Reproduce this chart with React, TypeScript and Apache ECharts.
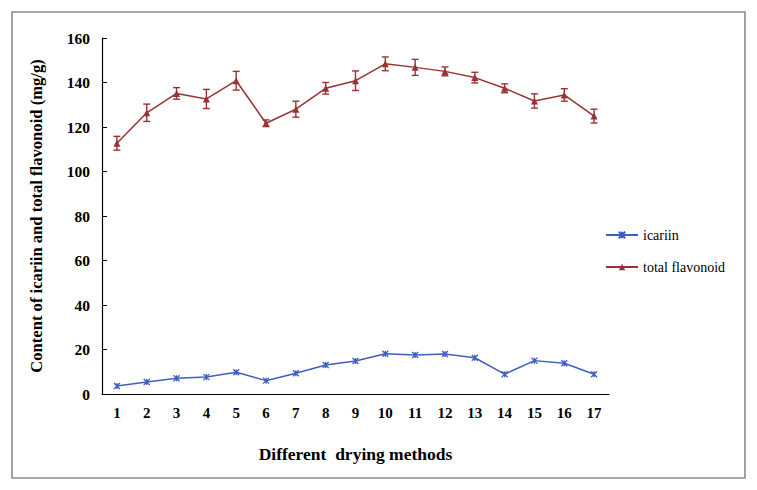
import React, { useEffect, useRef } from "react";
import * as echarts from "echarts";

const categories = ["1", "2", "3", "4", "5", "6", "7", "8", "9", "10", "11", "12", "13", "14", "15", "16", "17"];
const icariin = [3.6, 5.4, 7.1, 7.6, 9.8, 6.0, 9.3, 13.0, 14.8, 18.1, 17.5, 18.0, 16.3, 8.9, 15.0, 13.8, 8.9];
const totalFlavonoid = [112.7, 126.4, 135.1, 132.6, 140.8, 121.7, 128.0, 137.4, 140.8, 148.4, 146.8, 145.0, 142.2, 137.4, 131.7, 134.4, 124.9];
const totalFlavonoidErr = [3.1, 3.9, 2.6, 4.3, 4.2, 1.5, 3.6, 2.6, 4.4, 3.1, 3.6, 2.0, 2.4, 2.0, 3.2, 2.8, 3.1];
const yTicks = { min: 0, max: 160, interval: 20 };

const RED = "#993333";
const BLUE = "#3f5fc0";
const FONT = "Liberation Serif";
const STAR = "path://M0,0L10,10M10,0L0,10M5,0L5,10";

export default function App() {
  const ref = useRef<HTMLDivElement>(null);
  useEffect(() => {
    document.body.style.margin = "0";
    const chart = echarts.init(ref.current!, null, { renderer: "svg" });
    const errData = categories.map((_, i) => [i, totalFlavonoid[i] - totalFlavonoidErr[i], totalFlavonoid[i] + totalFlavonoidErr[i]]);
    chart.setOption({
      animation: false,
      backgroundColor: "#ffffff",
      textStyle: { fontFamily: FONT },
      grid: { left: 102, right: 148, top: 38, bottom: 96, containLabel: false },
      graphic: [
        {
          type: "rect",
          shape: { x: 12, y: 12, width: 733, height: 466 },
          style: { fill: "none", stroke: "#8c8c8c", lineWidth: 1.6 },
          silent: true,
        },
      ],
      legend: {
        orient: "vertical",
        left: 600,
        top: 223,
        itemWidth: 32,
        itemHeight: 8,
        itemGap: 18,
        textStyle: { fontFamily: FONT, fontSize: 14, color: "#000" },
        data: ["icariin", "total flavonoid"],
      },
      xAxis: {
        type: "category",
        data: categories,
        boundaryGap: true,
        name: "Different  drying methods",
        nameLocation: "middle",
        nameGap: 51,
        nameTextStyle: { fontFamily: FONT, fontSize: 17.5, fontWeight: "bold", color: "#000" },
        axisLine: { lineStyle: { color: "#000", width: 1.2 } },
        axisTick: { alignWithLabel: true, length: 4, lineStyle: { color: "#000" } },
        axisLabel: { fontFamily: FONT, fontSize: 15, fontWeight: "bold", color: "#000", margin: 11, interval: 0 },
        splitLine: { show: false },
      },
      yAxis: {
        type: "value",
        min: yTicks.min,
        max: yTicks.max,
        interval: yTicks.interval,
        name: "Content of icariin and total flavonoid (mg/g)",
        nameLocation: "middle",
        nameGap: 57,
        nameTextStyle: { fontFamily: FONT, fontSize: 16.6, fontWeight: "bold", color: "#000" },
        axisLine: { show: true, lineStyle: { color: "#000", width: 1.2 } },
        axisTick: { show: true, inside: true, length: 5, lineStyle: { color: "#000" } },
        axisLabel: { fontFamily: FONT, fontSize: 15.5, fontWeight: "bold", color: "#000", margin: 12 },
        splitLine: { show: false },
      },
      series: [
        {
          name: "icariin",
          type: "line",
          data: icariin,
          symbol: STAR,
          symbolSize: 6,
          showAllSymbol: true,
          lineStyle: { color: BLUE, width: 1.5 },
          itemStyle: { color: BLUE, borderColor: BLUE, borderWidth: 1.3 },
          z: 3,
        },
        {
          name: "total flavonoid",
          type: "line",
          data: totalFlavonoid,
          symbol: "triangle",
          symbolSize: 7,
          showAllSymbol: true,
          lineStyle: { color: RED, width: 1.5 },
          itemStyle: { color: RED },
          z: 3,
        },
        {
          name: "total flavonoid error",
          type: "custom",
          data: errData,
          encode: { x: 0, y: [1, 2] },
          z: 2,
          silent: true,
          renderItem: (params: any, api: any) => {
            const x = api.value(0);
            const lo = api.coord([x, api.value(1)]);
            const hi = api.coord([x, api.value(2)]);
            const w = 3.5;
            const style = { stroke: RED, lineWidth: 1.4 };
            return {
              type: "group",
              children: [
                { type: "line", shape: { x1: lo[0], y1: lo[1], x2: hi[0], y2: hi[1] }, style },
                { type: "line", shape: { x1: lo[0] - w, y1: lo[1], x2: lo[0] + w, y2: lo[1] }, style },
                { type: "line", shape: { x1: hi[0] - w, y1: hi[1], x2: hi[0] + w, y2: hi[1] }, style },
              ],
            };
          },
        },
      ],
    });
    return () => chart.dispose();
  }, []);
  return <div ref={ref} style={{ width: 757, height: 490 }} />;
}
